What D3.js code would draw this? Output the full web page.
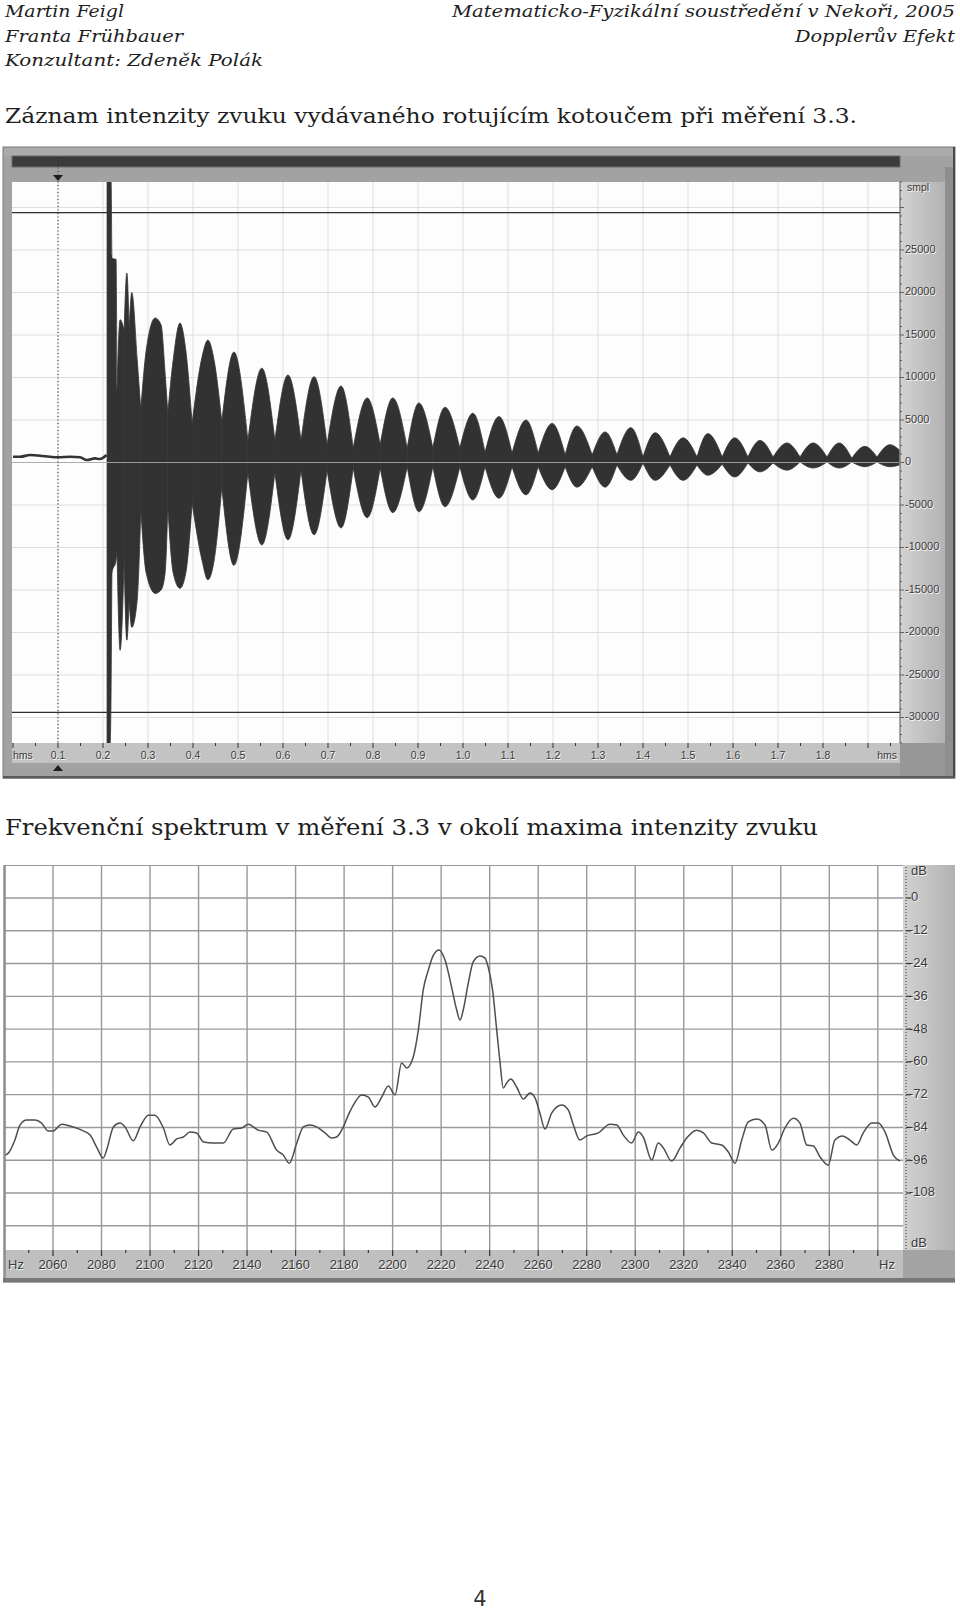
<!DOCTYPE html>
<html><head><meta charset="utf-8">
<script src="https://cdn.jsdelivr.net/npm/d3@7"></script>
<style>body{margin:0;background:#fff}svg{display:block}</style>
</head><body>
<script>
// ---------------- DATA ----------------
// Waveform envelope (time in s, amplitude in samples)
const waveTimes = [0.209,0.216,0.218,0.220,0.229,0.231,0.238,0.247,0.253,0.258,0.264,0.276,0.284,0.296,0.316,0.329,0.338,0.344,0.356,0.371,0.384,0.398,0.420,0.433,0.447,0.464,0.491,0.522,0.553,0.582,0.611,0.640,0.669,0.698,0.729,0.756,0.787,0.816,0.844,0.876,0.902,0.933,0.960,0.993,1.022,1.049,1.080,1.109,1.140,1.167,1.198,1.227,1.253,1.287,1.316,1.342,1.373,1.400,1.427,1.460,1.489,1.520,1.544,1.576,1.604,1.633,1.660,1.689,1.720,1.749,1.778,1.809,1.836,1.864,1.893,1.920,1.949,1.969];
const waveMax = [33000,33000,33000,24000,23900,8500,16800,15600,22300,15600,20000,12100,6200,13200,17000,16200,10500,5800,12100,16400,13200,4600,12400,14400,12000,4800,13000,2600,11100,2600,10300,2600,10100,2100,9000,1700,7600,2100,7600,1700,7000,1700,6500,1700,5800,1200,5400,1100,5000,1100,4600,900,4300,900,3600,900,4100,650,3500,650,2900,650,3400,650,2900,650,2600,650,2300,650,2300,650,2300,500,1900,650,2100,1500];
const waveMin = [-33000,-33000,-26800,-13000,-11500,-10300,-22100,-11500,-20900,-16200,-19400,-16200,-5600,-13000,-15400,-15000,-13000,-5200,-13000,-14800,-13000,-4800,-11500,-13800,-11500,-2900,-12100,-1200,-9700,-1200,-9100,-900,-8500,-900,-7700,-650,-6500,-650,-5900,-500,-5800,-500,-5200,-500,-4400,-500,-4200,-500,-3800,-500,-3200,-500,-2900,-500,-2900,-300,-2100,-60,-2100,-300,-2100,-300,-1500,-200,-1700,-60,-1100,-60,-900,60,-650,60,-650,60,-500,60,-500,-300];
// Pre-onset noise
const noiseTimes = [0,0.016,0.038,0.060,0.082,0.100,0.127,0.149,0.164,0.182,0.193,0.208];
const noiseValues = [680,680,880,800,680,610,680,610,290,490,410,880];
const clipLevels = [29400,-29400];
const cursorTime = 0.1;
const timeTicks = [0.1,0.2,0.3,0.4,0.5,0.6,0.7,0.8,0.9,1.0,1.1,1.2,1.3,1.4,1.5,1.6,1.7,1.8];
const timeTickLabels = ["0.1","0.2","0.3","0.4","0.5","0.6","0.7","0.8","0.9","1.0","1.1","1.2","1.3","1.4","1.5","1.6","1.7","1.8"];
const sampleTicks = [25000,20000,15000,10000,5000,0,-5000,-10000,-15000,-20000,-25000,-30000];

// Spectrum (Hz, dB)
const specFreq = [2040.2,2041.6,2044.3,2046.4,2049.2,2052.6,2055.3,2058.1,2060.1,2063.6,2067.0,2071.8,2075.3,2078.0,2080.7,2082.1,2084.9,2087.6,2089.7,2093.1,2095.9,2099.3,2102.0,2105.5,2108.2,2111.0,2113.7,2116.5,2119.2,2122.0,2126.1,2130.2,2134.3,2137.8,2140.5,2144.6,2148.1,2152.2,2154.9,2157.4,2160.5,2163.2,2165.9,2168.7,2172.1,2174.9,2176.9,2179.7,2181.7,2183.8,2187.2,2190.0,2192.7,2195.5,2198.2,2201.0,2203.7,2205.8,2208.5,2210.6,2212.6,2214.7,2216.8,2219.1,2221.6,2224.3,2226.4,2227.8,2229.1,2231.2,2233.2,2236.0,2238.1,2239.4,2241.2,2242.9,2244.3,2245.6,2247.0,2248.7,2251.1,2253.9,2256.6,2258.7,2260.7,2262.8,2265.6,2269.7,2272.4,2274.5,2277.2,2280.0,2284.8,2289.6,2292.4,2295.1,2298.5,2301.3,2303.3,2306.8,2309.5,2311.6,2315.0,2318.5,2321.2,2325.3,2328.1,2331.5,2335.6,2338.4,2341.1,2343.9,2346.6,2350.1,2353.5,2356.3,2359.0,2361.7,2365.2,2367.9,2370.7,2373.4,2376.2,2379.6,2382.3,2385.5,2388.5,2391.3,2394.0,2397.5,2400.2,2403.0,2406.4,2409.1];
const specDb = [-94.1,-93.4,-88.6,-83.1,-81.3,-81.3,-82.4,-85.3,-85.3,-82.8,-83.5,-85.0,-86.8,-91.2,-95.2,-92.3,-83.8,-82.4,-83.8,-88.9,-83.8,-79.5,-79.5,-84.2,-90.4,-88.2,-87.5,-85.7,-86.0,-89.3,-89.7,-89.7,-84.6,-84.2,-82.8,-85.0,-85.7,-92.3,-94.1,-97.1,-89.7,-83.8,-83.1,-83.8,-86.0,-87.9,-87.5,-83.8,-79.5,-75.8,-72.1,-72.9,-76.5,-72.9,-68.8,-72.1,-60.4,-62.2,-58.2,-48.3,-33.7,-26.4,-20.9,-19.0,-22.7,-32.6,-41.0,-44.7,-41.0,-31.1,-23.4,-21.2,-22.0,-25.3,-33.7,-48.3,-60.4,-69.6,-67.7,-66.3,-69.2,-73.6,-71.4,-73.2,-78.7,-84.6,-78.7,-75.8,-77.6,-83.1,-88.6,-87.1,-86.0,-82.8,-83.1,-86.8,-89.7,-85.7,-87.5,-95.9,-89.7,-91.5,-96.3,-91.5,-87.9,-85.0,-86.0,-89.7,-90.4,-93.0,-97.1,-88.6,-82.0,-80.9,-83.1,-92.3,-89.7,-84.2,-80.6,-82.4,-90.4,-90.8,-94.8,-97.8,-88.6,-87.1,-88.6,-90.4,-86.0,-82.4,-82.4,-85.7,-94.1,-96.3];
const freqTicks = [2060,2080,2100,2120,2140,2160,2180,2200,2220,2240,2260,2280,2300,2320,2340,2360,2380];
const dbTicks = [0,-12,-24,-36,-48,-60,-72,-84,-96,-108];

// ---------------- DRAW ----------------
const svg = d3.select("body").append("svg").attr("width",960).attr("height",1613);
svg.append("rect").attr("width",960).attr("height",1613).attr("fill","#fff");
const defs = svg.append("defs");
function grad(id, stops){
  const g = defs.append("linearGradient").attr("id",id).attr("x1","0").attr("x2","1").attr("y1","0").attr("y2","0");
  stops.forEach(s=>g.append("stop").attr("offset",s[0]).attr("stop-color",s[1]));
}
grad("panelG",[[0,"#d2d2d2"],[1,"#b2b2b2"]]);

const AX = "Liberation Sans, Arial, sans-serif";
function emboss(g,x,y,txt,size,anchor){
  g.append("text").attr("x",x+0.8).attr("y",y+0.8).attr("fill","#fafafa").attr("font-family",AX)
   .attr("font-size",size).attr("text-anchor",anchor||"start").attr("dominant-baseline","middle").text(txt);
  g.append("text").attr("x",x).attr("y",y).attr("fill","#3a3a3a").attr("font-family",AX)
   .attr("font-size",size).attr("text-anchor",anchor||"start").attr("dominant-baseline","middle").text(txt);
}

// Header text
const hdr = svg.append("g").attr("font-family","DejaVu Serif, serif").attr("fill","#1e1e1e");
function htxt(x,y,t,size,len,anchor,italic){
  hdr.append("text").attr("x",x).attr("y",y).attr("font-size",size).attr("font-style",italic?"italic":"normal")
    .attr("text-anchor",anchor).attr("textLength",len).attr("lengthAdjust","spacingAndGlyphs").text(t);
}
htxt(5,16.7,"Martin Feigl",16,119,"start",true);
htxt(5,41.7,"Franta Frühbauer",16,178,"start",true);
htxt(5,66,"Konzultant: Zdeněk Polák",16,258,"start",true);
htxt(955,16.7,"Matematicko-Fyzikální soustředění v Nekoři, 2005",16,503,"end",true);
htxt(955,41.7,"Dopplerův Efekt",16,160,"end",true);
htxt(5,123,"Záznam intenzity zvuku vydávaného rotujícím kotoučem při měření 3.3.",21,852,"start",false);
htxt(5,835,"Frekvenční spektrum v měření 3.3 v okolí maxima intenzity zvuku",23,813,"start",false);
svg.append("text").attr("x",480).attr("y",1606).attr("text-anchor","middle").attr("font-family","DejaVu Sans, sans-serif")
  .attr("font-size",21).attr("fill","#333").text("4");

// ================= WAVEFORM =================
const WL=12, WR=900, WT=182, WB=743;
const x = d3.scaleLinear().domain([0,1.97]).range([13,899.5]);
const y = d3.scaleLinear().domain([-33000,33000]).range([WB,WT]);
const wg = svg.append("g");
// frame
wg.append("rect").attr("x",3).attr("y",147).attr("width",952).attr("height",631).attr("fill","#a2a2a2").attr("stroke","#7c7c7c");
wg.append("rect").attr("x",4).attr("y",148).attr("width",950).attr("height",8).attr("fill","#ababab");
// scrollbar
wg.append("rect").attr("x",WL).attr("y",156).attr("width",WR-WL).attr("height",11).attr("fill","#3b3b3b").attr("stroke","#6a6a6a");
// right panel
wg.append("rect").attr("x",WR).attr("y",WT).attr("width",45).attr("height",WB-WT).attr("fill","url(#panelG)");
wg.append("rect").attr("x",945).attr("y",167).attr("width",8).attr("height",610).attr("fill","#8e8e8e");
wg.append("rect").attr("x",953).attr("y",147).attr("width",2).attr("height",631).attr("fill","#4a4a4a");
// bottom bar
wg.append("rect").attr("x",WL).attr("y",WB).attr("width",WR-WL).attr("height",20).attr("fill","#c3c3c3");
wg.append("rect").attr("x",WR).attr("y",WB).attr("width",45).attr("height",34).attr("fill","#979797");
wg.append("rect").attr("x",3).attr("y",776).attr("width",952).attr("height",2.5).attr("fill","#5a5a5a");
// plot bg
wg.append("rect").attr("x",WL).attr("y",WT).attr("width",WR-WL).attr("height",WB-WT).attr("fill","#fdfdfd");
wg.append("clipPath").attr("id","wclip").append("rect").attr("x",WL).attr("y",WT).attr("width",WR-WL).attr("height",WB-WT);
const wp = wg.append("g").attr("clip-path","url(#wclip)");
// grid
d3.range(0.1,1.95,0.1).forEach(t=>wp.append("line").attr("x1",x(t)).attr("x2",x(t)).attr("y1",WT).attr("y2",WB).attr("stroke","#dedede"));
d3.range(-30000,30001,5000).forEach(v=>wp.append("line").attr("x1",WL).attr("x2",WR).attr("y1",y(v)).attr("y2",y(v)).attr("stroke","#dedede"));
// clip level lines
clipLevels.forEach(v=>wp.append("line").attr("x1",WL).attr("x2",WR).attr("y1",y(v)).attr("y2",y(v)).attr("stroke","#2e2e2e").attr("stroke-width",1.4));
// waveform: split envelope at beat waists, each lobe drawn as its own smooth area
const env = waveTimes.map((t,i)=>({t,hi:waveMax[i],lo:waveMin[i]}));
const rng = d=>d.hi-d.lo;
const breaks = [0];
for(let i=1;i<env.length-1;i++){ if(rng(env[i])<rng(env[i-1]) && rng(env[i])<rng(env[i+1])) breaks.push(i); }
breaks.push(env.length-1);
const area = d3.area().x(d=>x(d.t)).y0(d=>y(d.lo)).y1(d=>y(d.hi)).curve(d3.curveMonotoneX);
for(let k=0;k<breaks.length-1;k++){
  wp.append("path").datum(env.slice(breaks[k],breaks[k+1]+1)).attr("d",area)
    .attr("fill","#323232").attr("stroke","#323232").attr("stroke-width",0.8);
}
const noise = noiseTimes.map((t,i)=>({t,v:noiseValues[i]}));
wp.append("path").datum(noise).attr("d",d3.line().x(d=>x(d.t)).y(d=>y(d.v)).curve(d3.curveMonotoneX))
  .attr("fill","none").attr("stroke","#333").attr("stroke-width",2.6);
// zero line over the waveform
wp.append("line").attr("x1",WL).attr("x2",WR).attr("y1",y(0)).attr("y2",y(0)).attr("stroke","#a8a8a8").attr("stroke-width",0.9);
// cursor
wg.append("line").attr("x1",x(cursorTime)).attr("x2",x(cursorTime)).attr("y1",157).attr("y2",WB)
  .attr("stroke","#222").attr("stroke-dasharray","1,2.5");
const cx = x(cursorTime);
wg.append("path").attr("d",`M${cx-5},175 L${cx+5},175 L${cx},181 Z`).attr("fill","#1e1e1e");
wg.append("path").attr("d",`M${cx-5},771 L${cx+5},771 L${cx},765 Z`).attr("fill","#1e1e1e");
// bottom axis ticks
d3.range(0,1.951,0.05).forEach((t,i)=>{
  const major = i%2===0;
  wg.append("line").attr("x1",x(t)).attr("x2",x(t)).attr("y1",WB).attr("y2",WB+(major?5:3)).attr("stroke","#333");
});
const wax = wg.append("g");
timeTicks.forEach((t,i)=>emboss(wax,x(t),756,timeTickLabels[i],10.5,"middle"));
emboss(wax,13,756,"hms",10.5,"start");
emboss(wax,897,756,"hms",10.5,"end");
// right axis
d3.range(-33000,33001,1000).forEach(v=>{
  if(y(v)<WT||y(v)>WB) return;
  wg.append("line").attr("x1",WR).attr("x2",WR+(v%5000===0?4:2)).attr("y1",y(v)).attr("y2",y(v)).attr("stroke","#444").attr("stroke-width",0.8);
});
wg.append("line").attr("x1",WR).attr("x2",WR).attr("y1",WT).attr("y2",WB).attr("stroke","#555");
sampleTicks.forEach(v=>emboss(wax,905,y(v),String(v),11,"start"));
emboss(wax,907,188,"smpl",10.5,"start");

// ================= SPECTRUM =================
const SL=5, SR=903, ST=865, SB=1250;
const fx = d3.scaleLinear().domain([2060,2380]).range([53,829.3]);
const fy = d3.scaleLinear().domain([0,-108]).range([898,1193]);
const sg = svg.append("g");
sg.append("rect").attr("x",3).attr("y",ST).attr("width",952).attr("height",418).attr("fill","#a8a8a8");
sg.append("rect").attr("x",SL).attr("y",ST).attr("width",SR-SL).attr("height",SB-ST).attr("fill","#fff");
sg.append("rect").attr("x",SR).attr("y",ST).attr("width",52).attr("height",SB-ST).attr("fill","url(#panelG)");
sg.append("rect").attr("x",SL).attr("y",SB).attr("width",SR-SL).attr("height",28).attr("fill","#bfbfbf");
sg.append("rect").attr("x",SR).attr("y",SB).attr("width",52).attr("height",28).attr("fill","#a3a3a3");
sg.append("rect").attr("x",3).attr("y",1278).attr("width",952).attr("height",4).attr("fill","#777");
sg.append("clipPath").attr("id","sclip").append("rect").attr("x",SL).attr("y",ST).attr("width",SR-SL).attr("height",SB-ST);
const sp = sg.append("g").attr("clip-path","url(#sclip)");
d3.range(2040,2401,20).forEach(f=>sp.append("line").attr("x1",fx(f)).attr("x2",fx(f)).attr("y1",ST).attr("y2",SB).attr("stroke","#999").attr("stroke-width",1.4));
d3.range(12,-121,-12).forEach(d=>sp.append("line").attr("x1",SL).attr("x2",SR).attr("y1",fy(d)).attr("y2",fy(d)).attr("stroke","#999").attr("stroke-width",1.4));
sg.append("line").attr("x1",SL).attr("x2",SL).attr("y1",ST).attr("y2",SB+28).attr("stroke","#8a8a8a").attr("stroke-width",1.5);
const spec = specFreq.map((f,i)=>({f,d:specDb[i]}));
sp.append("path").datum(spec).attr("d",d3.line().x(d=>fx(d.f)).y(d=>fy(d.d)).curve(d3.curveMonotoneX))
  .attr("fill","none").attr("stroke","#4e4e4e").attr("stroke-width",1.5);
// bottom axis
d3.range(2050,2401,10).forEach(f=>{
  const major = f%20===0;
  sg.append("line").attr("x1",fx(f)).attr("x2",fx(f)).attr("y1",SB).attr("y2",SB+(major?6:3)).attr("stroke","#333").attr("stroke-width",1.2);
});
const sax = sg.append("g");
freqTicks.forEach(f=>emboss(sax,fx(f),1266,String(f),13,"middle"));
emboss(sax,8,1266,"Hz",13,"start");
emboss(sax,895,1266,"Hz",13,"end");
// right axis
sg.append("line").attr("x1",906).attr("x2",906).attr("y1",ST+2).attr("y2",SB).attr("stroke","#333").attr("stroke-dasharray","1,2");
dbTicks.forEach(d=>{
  sg.append("line").attr("x1",906).attr("x2",911).attr("y1",fy(d)).attr("y2",fy(d)).attr("stroke","#333").attr("stroke-width",1.2);
  emboss(sax,d===0?911:909,fy(d),d===0?"0":String(d),13,"start");
});
emboss(sax,911,872,"dB",13,"start");
emboss(sax,911,1244,"dB",13,"start");
</script>
</body></html>
